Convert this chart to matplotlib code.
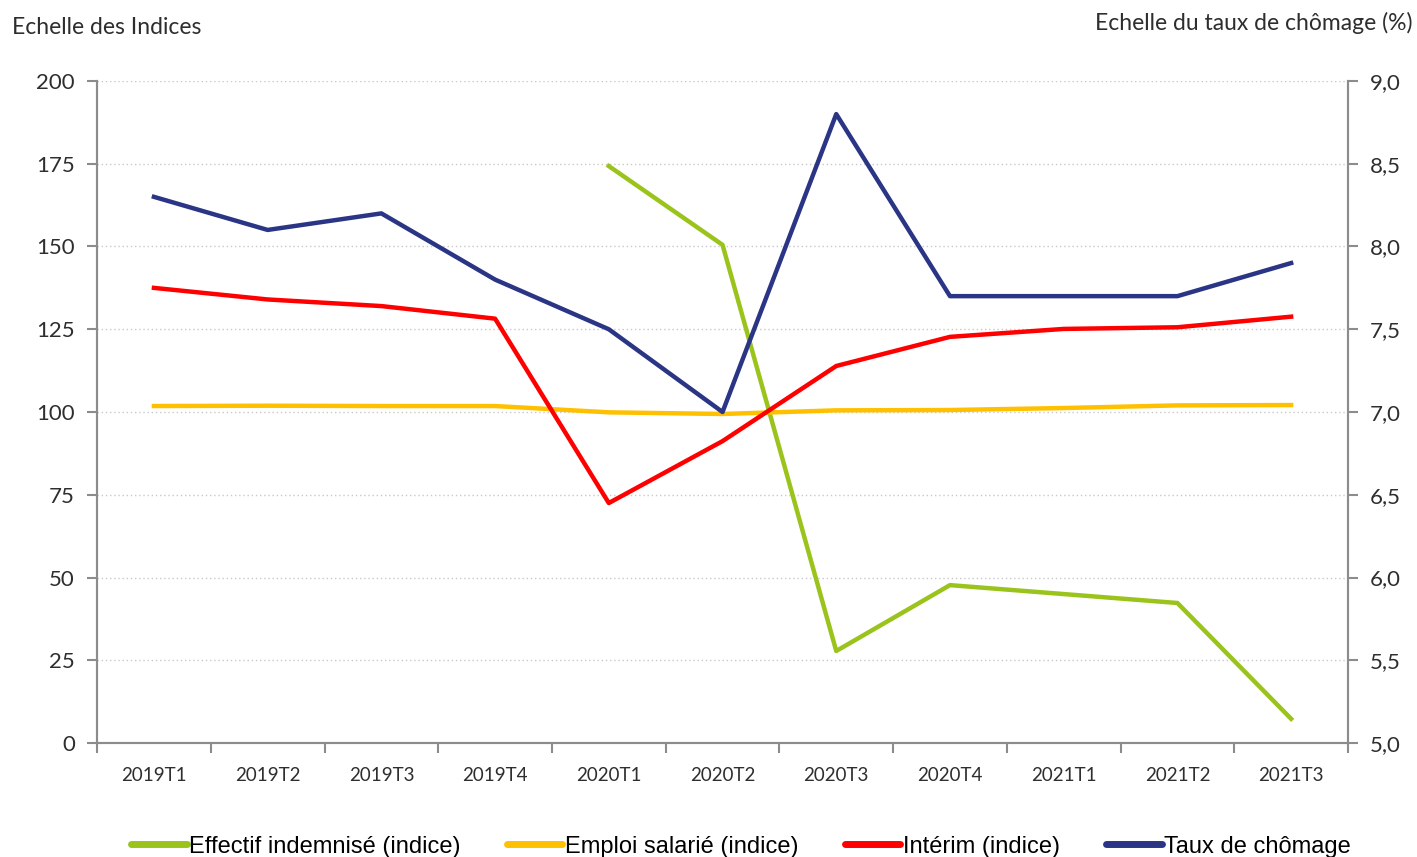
"""
Indices d'emploi, d'intérim, d'effectif indemnisé et taux de chômage par trimestre.
"""
import matplotlib
matplotlib.use("Agg")
import matplotlib.pyplot as plt
from matplotlib.ticker import FuncFormatter

trimestres = ["2019T1", "2019T2", "2019T3", "2019T4", "2020T1", "2020T2",
              "2020T3", "2020T4", "2021T1", "2021T2", "2021T3"]
effectif_indemnise = [None, None, None, None, 174.3, 150.5, 27.8, 47.7, 45.0, 42.3, 7.3]
emploi_salarie = [101.8, 101.9, 101.8, 101.8, 99.9, 99.4, 100.5, 100.6, 101.2, 102.0, 102.1]
interim = [137.5, 134.0, 132.0, 128.2, 72.5, 91.2, 113.9, 122.7, 125.1, 125.6, 128.8]
taux_chomage = [8.3, 8.1, 8.2, 7.8, 7.5, 7.0, 8.8, 7.7, 7.7, 7.7, 7.9]

VERT = "#9AC31C"
JAUNE = "#FFC000"
ROUGE = "#FF0000"
BLEU = "#2B3585"
GRIS = "#8C8C8C"
TEXTE = "#2E2E2E"

plt.rcParams["font.family"] = ["Lato", "DejaVu Sans"]

fig = plt.figure(figsize=(14.17, 8.57), dpi=100)
ax = fig.add_axes([0.0685, 0.133, 0.8828, 0.7725])
ax2 = ax.twinx()

x = list(range(len(trimestres)))
x_eff = [i for i, v in zip(x, effectif_indemnise) if v is not None]
v_eff = [v for v in effectif_indemnise if v is not None]

l1, = ax.plot(x_eff, v_eff, color=VERT, lw=3.2, label="Effectif indemnisé (indice)")
l2, = ax.plot(x, emploi_salarie, color=JAUNE, lw=3.2, label="Emploi salarié (indice)")
l3, = ax.plot(x, interim, color=ROUGE, lw=3.2, label="Intérim (indice)")
l4, = ax2.plot(x, taux_chomage, color=BLEU, lw=3.2, label="Taux de chômage")

ax.set_xlim(-0.5, len(trimestres) - 0.5)
ax.set_ylim(0, 200)
ax.set_yticks(range(0, 201, 25))
ax2.set_ylim(5.0, 9.0)
ax2.set_yticks([5.0, 5.5, 6.0, 6.5, 7.0, 7.5, 8.0, 8.5, 9.0])
ax2.yaxis.set_major_formatter(FuncFormatter(lambda v, p: f"{v:.1f}".replace(".", ",")))

# ticks entre les catégories, étiquettes au centre
ax.set_xticks([i + 0.5 for i in range(-1, len(trimestres))])
ax.set_xticklabels([])
ax.set_xticks(x, minor=True)
ax.set_xticklabels(trimestres, minor=True, fontsize=13.5, color=TEXTE)
ax.tick_params(axis="x", which="major", length=7, color=GRIS, width=1.5)
ax.tick_params(axis="x", which="minor", length=0, pad=17)
ax.tick_params(axis="y", length=7, color=GRIS, width=1.5, labelsize=16,
               labelcolor=TEXTE, pad=9)
ax2.tick_params(axis="y", length=7, color=GRIS, width=1.5, labelsize=16,
                labelcolor=TEXTE, pad=9)

ax.grid(axis="y", linestyle=(0, (1, 2)), color="#C8C8C8", lw=1)
ax.set_axisbelow(True)
for a in (ax, ax2):
    a.spines["top"].set_visible(False)
    for s in ("left", "right", "bottom"):
        a.spines[s].set_color(GRIS)
        a.spines[s].set_linewidth(1.5)

fig.text(0.0085, 0.968, "Echelle des Indices", fontsize=16.5, color=TEXTE, va="center")
fig.text(0.997, 0.973, "Echelle du taux de chômage (%)", fontsize=16.5, color=TEXTE,
         va="center", ha="right")

leg = fig.legend(handles=[l1, l2, l3, l4], loc="center", bbox_to_anchor=(0.523, 0.012),
                 ncol=4, frameon=False, handlelength=2.35, handletextpad=0.12,
                 columnspacing=1.95,
                 prop={"family": ["Liberation Sans", "DejaVu Sans"], "size": 17})
for ligne in leg.get_lines():
    ligne.set_linewidth(5)
    ligne.set_solid_capstyle("round")

fig.savefig("out.png", dpi=100)
plt.close(fig)
